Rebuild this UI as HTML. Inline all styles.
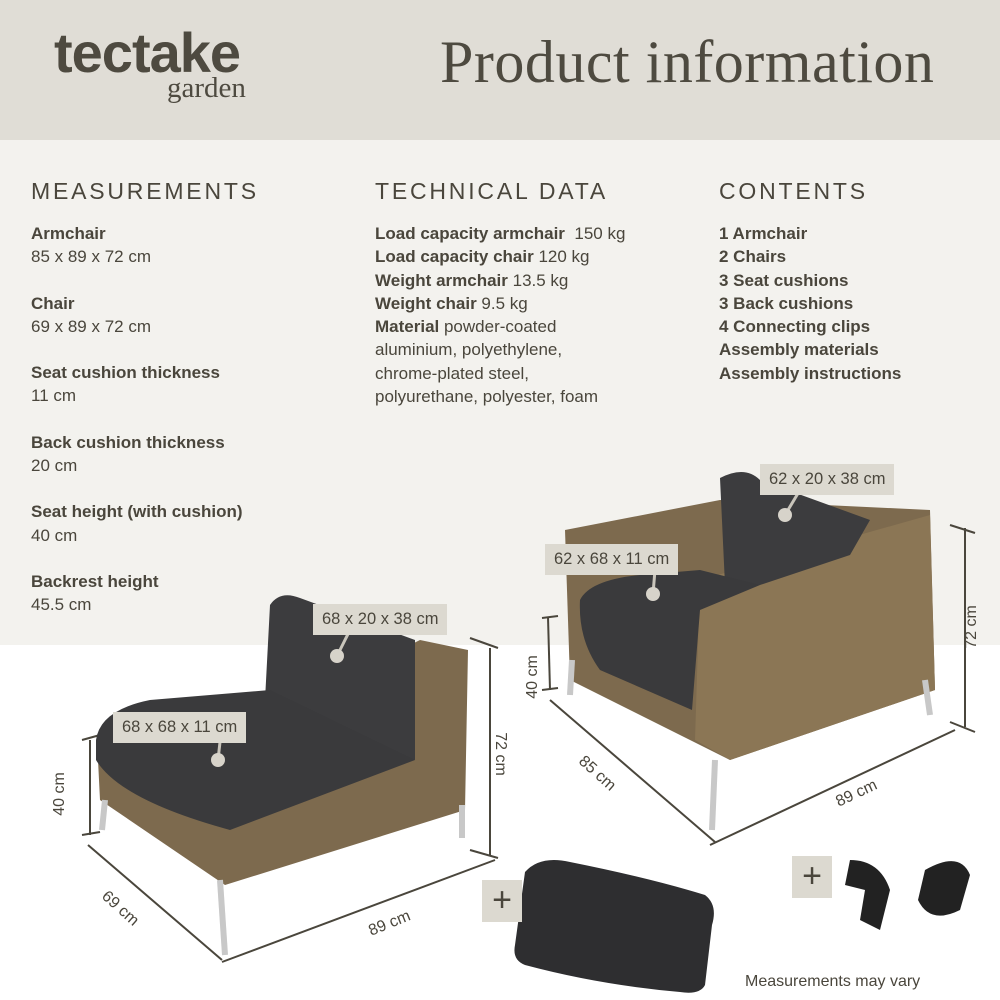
<!DOCTYPE html>
<html><head><style>
body{margin:0;width:1000px;height:1000px;overflow:hidden;background:#fff;font-family:"Liberation Sans",sans-serif;color:#4a463c;position:relative}
.hdr{position:absolute;left:0;top:0;width:1000px;height:140px;background:#e0ddd6}
.mid{position:absolute;left:0;top:140px;width:1000px;height:505px;background:#f3f2ee}
.t{position:absolute;white-space:nowrap}
h2{position:absolute;margin:0;font-weight:normal;font-size:23px;letter-spacing:2.8px;color:#4a463c}
.col{position:absolute;font-size:17px;line-height:23.3px}
.col b{font-weight:bold}
.lab{position:absolute;background:#dcd9d0;font-size:16.5px;padding:6px 9px;color:#4a463c}
</style></head><body>
<div class="hdr"></div><div class="mid"></div>
<div class="t" style="left:54px;top:20px;font-size:56px;font-weight:bold;letter-spacing:-1px;color:#4e4a40">tectake</div>
<div class="t" style="left:167px;top:72px;font-size:29px;font-family:'Liberation Serif',serif;color:#4e4a40">garden</div>
<div class="t" style="left:440px;top:28px;font-size:60px;font-family:'Liberation Serif',serif;color:#4e4a40;letter-spacing:0.5px">Product information</div>
<h2 style="left:31px;top:178px">MEASUREMENTS</h2>
<h2 style="left:375px;top:178px">TECHNICAL DATA</h2>
<h2 style="left:719px;top:178px">CONTENTS</h2>
<div class="col" style="left:31px;top:222px">
<b>Armchair</b><br>85 x 89 x 72 cm<br><div style="height:23px"></div>
<b>Chair</b><br>69 x 89 x 72 cm<br><div style="height:23px"></div>
<b>Seat cushion thickness</b><br>11 cm<br><div style="height:23px"></div>
<b>Back cushion thickness</b><br>20 cm<br><div style="height:23px"></div>
<b>Seat height (with cushion)</b><br>40 cm<br><div style="height:23px"></div>
<b>Backrest height</b><br>45.5 cm</div>
<div class="col" style="left:375px;top:222px">
<b>Load capacity armchair</b>&nbsp; 150 kg<br><b>Load capacity chair</b> 120 kg<br><b>Weight armchair</b> 13.5 kg<br><b>Weight chair</b> 9.5 kg<br><b>Material</b> powder-coated<br>aluminium, polyethylene,<br>chrome-plated steel,<br>polyurethane, polyester, foam</div>
<div class="col" style="left:719px;top:222px;font-weight:bold">
1 Armchair<br>2 Chairs<br>3 Seat cushions<br>3 Back cushions<br>4 Connecting clips<br>Assembly materials<br>Assembly instructions</div>

<svg style="position:absolute;left:0;top:0" width="1000" height="1000">
<g stroke="#4a463c" stroke-width="2" fill="none">
<line x1="548" y1="617" x2="550" y2="690"/><line x1="542" y1="618" x2="558" y2="616"/><line x1="542" y1="690" x2="558" y2="688"/>
<line x1="550" y1="700" x2="715" y2="842"/><line x1="710" y1="845" x2="955" y2="730"/>
<line x1="965" y1="528" x2="965" y2="727"/><line x1="950" y1="525" x2="975" y2="533"/><line x1="950" y1="722" x2="975" y2="732"/>
<line x1="90" y1="740" x2="90" y2="835"/><line x1="82" y1="740" x2="100" y2="735"/><line x1="82" y1="835" x2="100" y2="832"/>
<line x1="88" y1="845" x2="222" y2="960"/><line x1="222" y1="962" x2="495" y2="860"/>
<line x1="490" y1="648" x2="490" y2="855"/><line x1="470" y1="638" x2="498" y2="648"/><line x1="470" y1="850" x2="498" y2="858"/>
</g>
<!-- armchair -->
<polygon points="565,530 720,500 930,510 935,690 730,760 690,740 570,680" fill="#7d6a4e"/>
<polygon points="700,580 930,515 935,690 730,760 695,740" fill="#8b7655"/>
<path d="M720,478 Q745,465 760,480 L870,520 L850,555 L760,585 L725,585 Z" fill="#3c3c3e"/>
<path d="M580,600 Q590,580 640,575 L700,570 L760,585 L700,610 L692,710 L600,670 Q578,640 580,600Z" fill="#3a3a3c"/>
<g stroke="#c8c8c8" stroke-width="6"><line x1="572" y1="660" x2="570" y2="695"/><line x1="715" y1="760" x2="712" y2="830"/><line x1="925" y1="680" x2="930" y2="715"/></g>
<!-- chair -->
<polygon points="98,760 300,700 420,640 468,650 465,810 225,885 100,800" fill="#7d6a4e"/>
<path d="M270,605 Q280,590 300,598 L415,640 L415,760 L330,735 L265,700Z" fill="#3c3c3e"/>
<path d="M96,740 Q100,710 150,700 L270,690 L415,760 L230,830 Q120,800 96,760Z" fill="#3a3a3c"/>
<g stroke="#c8c8c8" stroke-width="6"><line x1="105" y1="800" x2="102" y2="830"/><line x1="220" y1="880" x2="225" y2="955"/><line x1="462" y1="805" x2="462" y2="838"/></g>
<!-- cushion & clips -->
<path d="M525,872 Q540,855 570,862 Q650,878 705,895 Q718,905 712,925 L705,985 Q700,995 680,992 Q600,985 525,965 Q512,960 515,945 Z" fill="#2e2e30"/>
<path d="M850,860 Q880,860 890,890 L880,930 L860,920 L865,890 L845,885 Z" fill="#222"/>
<path d="M925,870 Q960,850 970,875 L960,910 Q930,925 918,900 Z" fill="#222"/>
<g stroke="#c9c5bb" stroke-width="3"><line x1="800" y1="490" x2="785" y2="515"/><line x1="655" y1="570" x2="653" y2="594"/><line x1="350" y1="630" x2="337" y2="656"/><line x1="220" y1="742" x2="218" y2="760"/></g>
<g fill="#d7d3ca"><circle cx="785" cy="515" r="7"/><circle cx="653" cy="594" r="7"/><circle cx="337" cy="656" r="7"/><circle cx="218" cy="760" r="7"/></g>
</svg>
<div class="lab" style="left:760px;top:464px">62 x 20 x 38 cm</div>
<div class="lab" style="left:545px;top:544px">62 x 68 x 11 cm</div>
<div class="lab" style="left:313px;top:604px">68 x 20 x 38 cm</div>
<div class="lab" style="left:113px;top:712px">68 x 68 x 11 cm</div>
<div class="lab" style="left:482px;top:880px;width:24px;height:32px;font-size:34px;line-height:30px;text-align:center;padding:5px 8px">+</div>
<div class="lab" style="left:792px;top:856px;width:24px;height:32px;font-size:34px;line-height:30px;text-align:center;padding:5px 8px">+</div>
<div class="t" style="left:511px;top:668px;font-size:16px;transform:rotate(-90deg)">40 cm</div>
<div class="t" style="left:950px;top:618px;font-size:16px;transform:rotate(-90deg)">72 cm</div>
<div class="t" style="left:575px;top:765px;font-size:16px;transform:rotate(42deg)">85 cm</div>
<div class="t" style="left:835px;top:785px;font-size:16px;transform:rotate(-25deg)">89 cm</div>
<div class="t" style="left:38px;top:785px;font-size:16px;transform:rotate(-90deg)">40 cm</div>
<div class="t" style="left:478px;top:745px;font-size:16px;transform:rotate(90deg)">72 cm</div>
<div class="t" style="left:98px;top:900px;font-size:16px;transform:rotate(42deg)">69 cm</div>
<div class="t" style="left:368px;top:915px;font-size:16px;transform:rotate(-22deg)">89 cm</div>
<div class="t" style="left:745px;top:973px;font-size:16px">Measurements may vary</div>
</body></html>
